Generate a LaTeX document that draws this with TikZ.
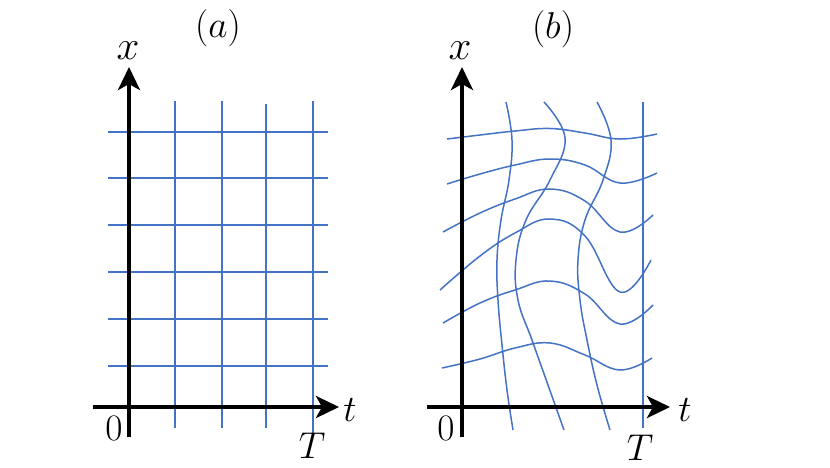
\documentclass[tikz,border=0pt]{standalone}
\usetikzlibrary{arrows.meta}
\definecolor{gridblue}{RGB}{68,114,196}
\begin{document}
\begin{tikzpicture}[x=1pt,y=-1pt,
  gridline/.style={gridblue,line width=1.5pt},
  tline/.style={gridblue,line width=2.7pt},
  wave/.style={gridblue,line width=1.5pt,smooth,tension=0.7},
  axis/.style={black,line width=4pt,-{Stealth[length=23pt,width=22pt,inset=6pt]}},
  lab/.style={inner sep=0pt,font=\Huge,scale=1.5},
  biglab/.style={inner sep=0pt,font=\Huge,scale=1.65}]
\useasboundingbox (0,0) rectangle (830,467);
% ---------- panel (a) ----------
\foreach \y in {132,178,225,272,319,366}
  \draw[gridline] (108,\y) -- (328,\y);
\draw[gridline] (175,101) -- (175,428);
\draw[gridline] (222,101) -- (222,428);
\draw[gridline] (266,104) -- (266,428);
\draw[tline] (313,101) -- (313,436);
\draw[axis] (129,437) -- (129,67);
\draw[axis] (93,407) -- (339,407);
\node[biglab] (xa) at (128,51) {$x$};
\node[lab] (pa) at (218,28) {$(a)$};
\node[lab] (ta) at (350,410) {$t$};
\node[lab] (za) at (114,428) {$0$};
\node[lab] (Ta) at (312,446) {$T$};
% ---------- panel (b) ----------
\draw[wave] plot coordinates {(506,102) (512,140) (509,180) (501,220) (497,260) (498,300) (502,345) (507,390) (513,430)};
\draw[wave] plot coordinates {(544,102) (565,138) (550,180) (526,220) (516,260) (518,300) (532,340) (548,385) (564,430)};
\draw[wave] plot coordinates {(597,102) (611,140) (603,180) (585,220) (578,260) (580,300) (587,340) (597,385) (610,430)};
\draw[tline] (643,102) -- (643,428);
\draw[wave] plot coordinates {(447,139) (480,135) (515,131) (550,128.5) (585,133) (620,139) (657,134)};
\draw[wave] plot coordinates {(447,184) (480,174) (515,165) (550,159) (585,165) (620,183) (657,173)};
\draw[wave] plot coordinates {(443,232) (480,213) (515,199) (550,189) (585,201) (620,232) (653,215)};
\draw[wave] plot coordinates {(440,290) (480,256) (515,233) (550,219) (585,236) (620,292) (651,260)};
\draw[wave] plot coordinates {(443,323) (480,303) (515,290) (550,281) (585,294) (620,324) (653,305)};
\draw[wave] plot coordinates {(442,368) (480,359) (515,348) (550,343) (585,355) (620,370) (652,358)};
\draw[axis] (462,437) -- (462,67);
\draw[axis] (427,407) -- (670,407);
\node[biglab] (xb) at (460,51) {$x$};
\node[lab] (pb) at (553,29) {$(b)$};
\node[lab] (tb) at (685,410) {$t$};
\node[lab] (zb) at (446,428) {$0$};
\node[lab] (Tb) at (640,448) {$T$};
\end{tikzpicture}
\end{document}
